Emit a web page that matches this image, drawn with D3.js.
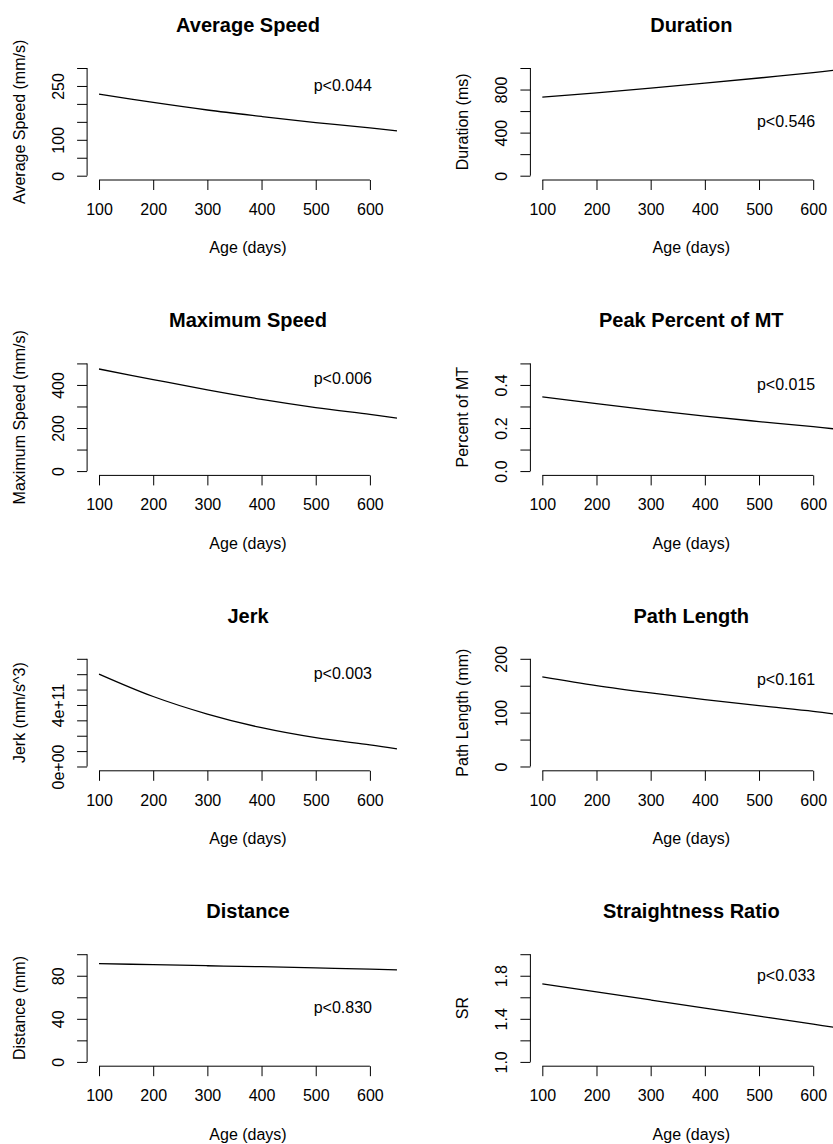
<!DOCTYPE html>
<html>
<head>
<meta charset="utf-8">
<script src="https://cdn.jsdelivr.net/npm/d3@7/dist/d3.min.js"></script>
<style>
  html, body { margin: 0; padding: 0; background: #fff; overflow: hidden; }
  svg { display: block; font-family: "Liberation Sans", Arial, Helvetica, sans-serif; }
  .tick-label { font-size: 16px; fill: #000; }
  .axis-title { font-size: 16px; fill: #000; }
  .panel-title { font-size: 20px; font-weight: bold; fill: #000; }
  .p-label { font-size: 16px; fill: #000; }
</style>
</head>
<body>
<div id="chart"></div>
<script>
// fitted curves at these ages
const ages = [100, 200, 300, 400, 500, 600, 650];

const avgSpeed = [227, 204, 183, 165, 148, 133, 125];
const duration = [729, 770, 813, 859, 907, 958, 985];
const maxSpeed = [474, 425, 377, 333, 295, 263, 246];
const peakPercent = [0.345, 0.313, 0.283, 0.255, 0.230, 0.206, 0.193];
const jerk = [6.01e11, 4.55e11, 3.41e11, 2.52e11, 1.87e11, 1.41e11, 1.15e11];
const pathLength = [166.5, 150.3, 136.6, 124.2, 113, 102.5, 96];
const distance = [91.2, 90.3, 89.3, 88.4, 87.3, 86.2, 85.5];
const straightness = [1.725, 1.650, 1.575, 1.500, 1.425, 1.350, 1.312];

const panelTitles = ["Average Speed", "Duration", "Maximum Speed", "Peak Percent of MT",
  "Jerk", "Path Length", "Distance", "Straightness Ratio"];
const yTitles = ["Average Speed (mm/s)", "Duration (ms)", "Maximum Speed (mm/s)", "Percent of MT",
  "Jerk (mm/s^3)", "Path Length (mm)", "Distance (mm)", "SR"];
const pTexts = ["p<0.044", "p<0.546", "p<0.006", "p<0.015", "p<0.003", "p<0.161", "p<0.830", "p<0.033"];
const pAt = [250, 500, 425, 0.4, 6e11, 160, 50, 1.8];

const yTicks = [
  [0, 50, 100, 150, 200, 250, 300],
  [0, 200, 400, 600, 800, 1000],
  [0, 100, 200, 300, 400, 500],
  [0, 0.1, 0.2, 0.3, 0.4, 0.5],
  [0, 1e11, 2e11, 3e11, 4e11, 5e11, 6e11, 7e11],
  [0, 50, 100, 150, 200],
  [0, 20, 40, 60, 80, 100],
  [1.0, 1.2, 1.4, 1.6, 1.8, 2.0],
];
const yTickLabels = [
  ["0", "", "100", "", "", "250", ""],
  ["0", "", "400", "", "800", ""],
  ["0", "", "200", "", "400", ""],
  ["0.0", "", "0.2", "", "0.4", ""],
  ["0e+00", "", "", "", "4e+11", "", "", ""],
  ["0", "", "100", "", "200"],
  ["0", "", "40", "", "80", ""],
  ["1.0", "", "1.4", "", "1.8", ""],
];

const xTicks = [100, 200, 300, 400, 500, 600];
const xLimits = [100, 650];
const xTitle = "Age (days)";
const pAge = 550;

const series = [avgSpeed, duration, maxSpeed, peakPercent, jerk, pathLength, distance, straightness];

const width = 833;
const height = 1144;
const colStep = 443.3;
const rowStep = 295.4;
const plotW = 321.8;
const plotH = 116.3;
const tickLen = 10;

const svg = d3.select("#chart")
  .append("svg")
  .attr("width", width)
  .attr("height", height)
  .attr("viewBox", `0 0 ${width} ${height}`);

// R-style 4% padding around the limits
function padded([lo, hi]) {
  const pad = (hi - lo) * 0.04;
  return [lo - pad, hi + pad];
}

series.forEach((values, i) => {
  const col = i % 2;
  const row = Math.floor(i / 2);
  const left = 87.1 + col * colStep;
  const bottom = 180 + row * rowStep;
  const ticks = yTicks[i];

  const x = d3.scaleLinear().domain(padded(xLimits)).range([left, left + plotW]);
  const y = d3.scaleLinear()
    .domain(padded([ticks[0], ticks[ticks.length - 1]]))
    .range([bottom, bottom - plotH]);

  const panel = svg.append("g").attr("class", "panel");

  // y axis
  const yAxis = panel.append("g")
    .attr("transform", `translate(${left},0)`)
    .call(d3.axisLeft(y).tickValues(ticks).tickSize(tickLen).tickFormat((d, k) => yTickLabels[i][k]))
    .call((g) => g.select(".domain").remove())
    .call((g) => g.selectAll(".tick line").attr("stroke", "#000"));
  yAxis.selectAll(".tick text")
    .attr("class", "tick-label")
    .attr("transform", "rotate(-90)")
    .attr("x", 0)
    .attr("y", -23)
    .attr("dy", null)
    .attr("text-anchor", "middle");
  yAxis.append("line")
    .attr("y1", y(ticks[0]))
    .attr("y2", y(ticks[ticks.length - 1]))
    .attr("stroke", "#000");
  yAxis.attr("font-size", null).attr("font-family", null);

  // x axis
  const xAxis = panel.append("g")
    .attr("transform", `translate(0,${bottom})`)
    .call(d3.axisBottom(x).tickValues(xTicks).tickSize(tickLen).tickFormat(d3.format("d")))
    .call((g) => g.select(".domain").remove())
    .call((g) => g.selectAll(".tick line").attr("stroke", "#000"));
  xAxis.selectAll(".tick text")
    .attr("class", "tick-label")
    .attr("y", 35)
    .attr("dy", null);
  xAxis.append("line")
    .attr("x1", x(xTicks[0]))
    .attr("x2", x(xTicks[xTicks.length - 1]))
    .attr("stroke", "#000");
  xAxis.attr("font-size", null).attr("font-family", null);

  const midX = left + plotW / 2;

  panel.append("text")
    .attr("class", "panel-title")
    .attr("x", midX)
    .attr("y", bottom - 148.3)
    .attr("text-anchor", "middle")
    .text(panelTitles[i]);

  panel.append("text")
    .attr("class", "axis-title")
    .attr("x", midX)
    .attr("y", bottom + 73.3)
    .attr("text-anchor", "middle")
    .text(xTitle);

  panel.append("text")
    .attr("class", "axis-title")
    .attr("transform", `translate(${left - 62},${bottom - plotH / 2}) rotate(-90)`)
    .attr("text-anchor", "middle")
    .text(yTitles[i]);

  panel.append("path")
    .datum(values)
    .attr("fill", "none")
    .attr("stroke", "#000")
    .attr("stroke-width", 1.3)
    .attr("d", d3.line()
      .x((d, k) => x(ages[k]))
      .y((d) => y(d))
      .curve(d3.curveCatmullRom));

  panel.append("text")
    .attr("class", "p-label")
    .attr("x", x(pAge))
    .attr("y", y(pAt[i]))
    .attr("dy", "0.3em")
    .attr("text-anchor", "middle")
    .text(pTexts[i]);
});
</script>
</body>
</html>
